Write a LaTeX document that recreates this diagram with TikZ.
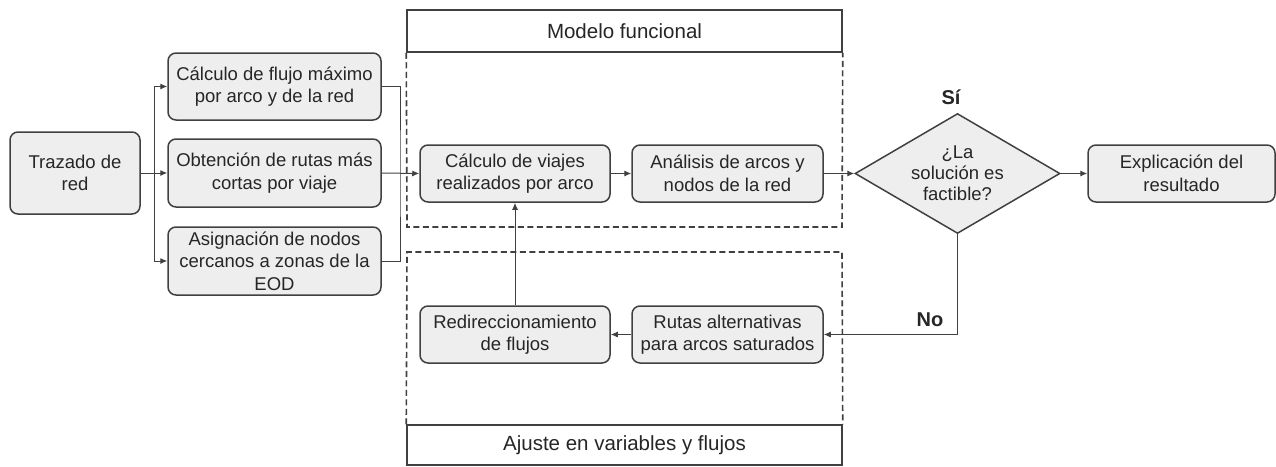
\documentclass[tikz,border=0pt]{standalone}
\usepackage{fontspec}
\setmainfont{Liberation Sans}
\usetikzlibrary{shapes.geometric,arrows.meta}
\definecolor{boxfill}{HTML}{EEEEEE}
\definecolor{edge}{HTML}{404040}
\definecolor{txt}{HTML}{262626}
\begin{document}
\begin{tikzpicture}[x=1pt,y=-1pt,
  procbox/.style={draw=edge,line width=1.5pt,fill=boxfill,rounded corners=8pt,
    inner sep=0pt,align=center,text=txt,font=\fontsize{18.5}{22.5}\selectfont},
  headbox/.style={draw=edge,line width=1.5pt,fill=white,inner sep=0pt,
    text=txt,font=\fontsize{20.5}{24}\selectfont},
  dashbox/.style={draw=edge,line width=1.6pt,dash pattern=on 6pt off 3.5pt},
  conn/.style={draw=edge,line width=1pt},
  arr/.style={conn,-{Latex[length=7pt,width=6pt]}},
  lbl/.style={font=\bfseries\fontsize{20}{24}\selectfont,text=txt}]
\useasboundingbox (0,0) rectangle (1276,466);

% frames
\node[headbox,minimum width=435pt,minimum height=42pt] (hmod) at (624.5,31) {Modelo funcional};
\draw[dashbox] (hmod.south west) -- (407,227) -- (842,227) -- (hmod.south east);
\node[headbox,minimum width=435pt,minimum height=40pt] (hadj) at (624.5,445) {Ajuste en variables y flujos};
\draw[dashbox] (hadj.north west) -- (407,252) -- (842,252) -- (hadj.north east);

% boxes
\node[procbox,minimum width=130pt,minimum height=82pt] (traz) at (75,173) {Trazado de\\red};
\node[procbox,minimum width=213pt,minimum height=67pt] (flujo) at (274.5,86.5) {Cálculo de flujo máximo\\por arco y de la red};
\node[procbox,minimum width=213pt,minimum height=68pt] (rutas) at (274.5,173) {Obtención de rutas más\\cortas por viaje};
\node[procbox,minimum width=213pt,minimum height=68pt] (asig) at (274.5,261) {Asignación de nodos\\cercanos a zonas de la\\EOD};
\node[procbox,minimum width=190pt,minimum height=57pt] (viajes) at (515,173.5) {Cálculo de viajes\\realizados por arco};
\node[procbox,minimum width=191pt,minimum height=57pt] (anal) at (727.5,173.5) {Análisis de arcos y\\nodos de la red};
\node[procbox,minimum width=190pt,minimum height=57pt] (redir) at (515,334.5) {Redireccionamiento\\de flujos};
\node[procbox,minimum width=191pt,minimum height=57pt] (alt) at (727.5,334.5) {Rutas alternativas\\para arcos saturados};
\node[draw=edge,line width=1.5pt,fill=boxfill,diamond,aspect=1.7,minimum width=205pt,minimum height=120pt,
  inner sep=0pt,align=center,text=txt,font=\fontsize{18.5}{21}\selectfont] (dec) at (957.5,173.5) {¿La\\solución es\\factible?};
\node[procbox,minimum width=187pt,minimum height=57pt] (expl) at (1181.5,173.5) {Explicación del\\resultado};

\node[lbl] (si) at (951,97) {Sí};
\node[lbl] (no) at (930,320) {No};

% connectors
\coordinate (split) at (154,173);
\coordinate (merge) at (400,173);
\draw[arr] (traz.east) -- (rutas.west);
\draw[arr] (split) |- (flujo.west);
\draw[arr] (split) |- (asig.west);
\draw[conn] (flujo.east) -| (merge) |- (asig.east);
\draw[arr] (rutas.east) -- (viajes.west);
\draw[arr] (viajes.east) -- (anal.west);
\draw[arr] (anal.east) -- (dec.west);
\draw[arr] (dec.east) -- (expl.west);
\draw[arr] (dec.south) |- (alt.east);
\draw[arr] (alt.west) -- (redir.east);
\draw[arr] (redir.north) -- (viajes.south);
\end{tikzpicture}
\end{document}
